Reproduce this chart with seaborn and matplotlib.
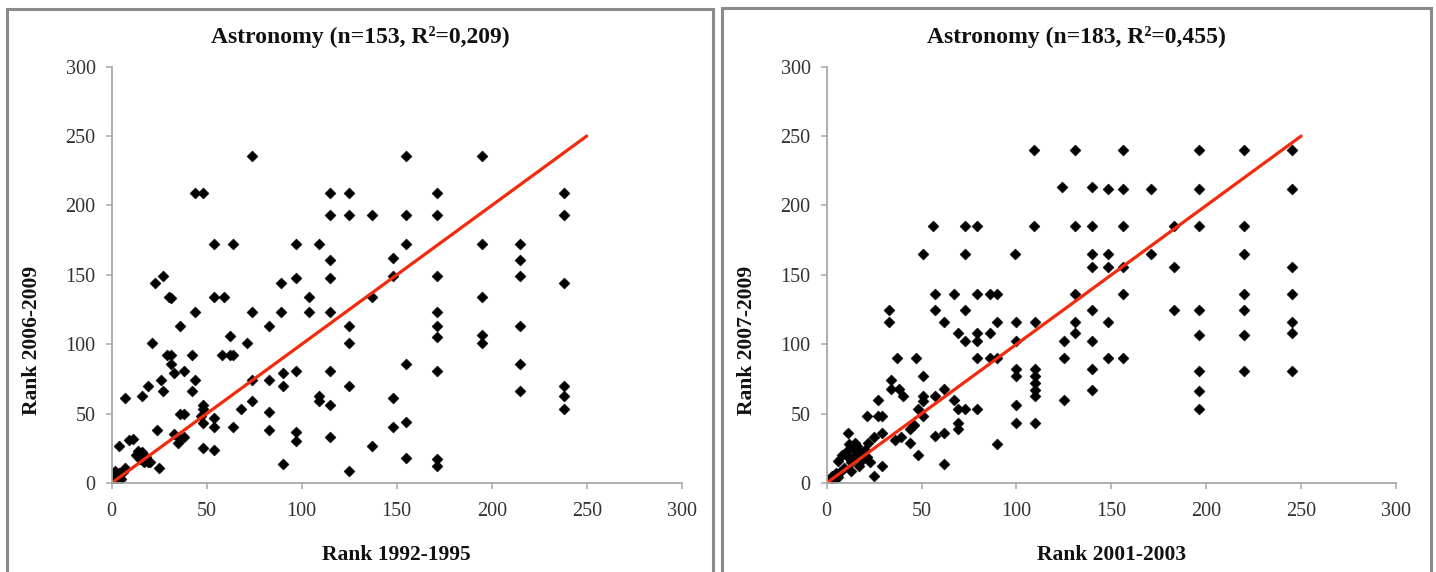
import numpy as np
import pandas as pd
import matplotlib
matplotlib.use("Agg")
import matplotlib.pyplot as plt
from matplotlib.lines import Line2D
import seaborn as sns

# ---------------- data ----------------
left_title = "Astronomy (n=153, R²=0,209)"
left_xlabel = "Rank 1992-1995"
left_ylabel = "Rank 2006-2009"
left_x = [74, 44, 48, 115, 125, 115, 125, 137, 54, 64, 97, 109, 115, 27, 23, 89, 97, 115,
          30, 31, 54, 59, 104, 137, 44, 74, 89, 104, 115, 36, 83, 125, 62, 21, 71, 125,
          29, 31, 42, 58, 62, 64, 31, 38, 33, 26, 44, 74, 83, 90, 97, 115, 19, 27, 42, 90,
          125, 7, 16, 109, 109, 115, 74, 48, 48, 36, 38, 68, 83, 47, 54, 48, 54, 64, 83, 97,
          97, 24, 33, 36, 38, 35, 115, 137, 48, 54, 90, 125, 4, 9, 11, 13, 15, 16, 18, 17,
          14, 20, 25, 19, 7, 1, 2, 3, 4, 5, 6, 2, 0,
          155, 195, 171, 238, 155, 171, 238, 155, 195, 215, 148, 215, 171, 148, 215, 238,
          195, 171, 171, 171, 195, 195, 215, 155, 171, 215, 148, 215, 238, 238, 238, 148,
          155, 155, 171, 171]
left_y = [236, 209, 209, 209, 209, 193, 193, 193, 172, 172, 172, 172, 161, 149, 144, 144, 148, 148,
          134, 133, 134, 134, 134, 134, 123, 123, 123, 123, 123, 113, 113, 113, 106, 101, 101, 101,
          92, 92, 92, 92, 92, 92, 86, 81, 79, 74, 74, 74, 74, 79, 81, 81, 70, 66, 66, 70,
          70, 61, 63, 63, 59, 56, 59, 56, 53, 50, 50, 53, 51, 48, 47, 43, 40, 40, 38, 37,
          30, 38, 35, 32, 33, 29, 33, 27, 25, 24, 14, 9, 27, 31, 32, 20, 17, 22, 19, 15,
          23, 15, 11, 15, 11, 2, 5, 1, 7, 3, 8, 9, 0,
          236, 236, 209, 209, 193, 193, 193, 172, 172, 172, 162, 161, 149, 149, 149, 144,
          134, 123, 113, 105, 107, 101, 113, 86, 81, 86, 61, 66, 70, 63, 53, 40,
          44, 18, 17, 12]

right_title = "Astronomy (n=183, R²=0,455)"
right_xlabel = "Rank 2001-2003"
right_ylabel = "Rank 2007-2009"
right_x = [109, 131, 124, 140, 56, 73, 79, 109, 131, 140, 51, 73, 99, 140, 140,
           57, 67, 79, 86, 90, 131, 33, 57, 73, 140, 33, 62, 90, 100, 110, 131,
           69, 79, 86, 131, 73, 79, 100, 125, 140, 37, 47, 79, 86, 90, 125,
           100, 100, 110, 110, 110, 110, 110, 140, 140, 51, 34, 38, 40, 34, 51, 51, 57, 62,
           27, 67, 125, 100, 21, 27, 29, 69, 73, 79, 51, 48, 69, 69, 100, 110,
           11, 29, 44, 46, 57, 62, 36, 39, 44, 90, 25, 22,
           6, 8, 10, 12, 14, 15, 16, 18, 19, 20, 21, 23, 17, 13, 15, 12,
           48, 62, 29, 25, 13, 9, 1, 2, 3, 4, 5, 6, 7, 0,
           156, 196, 220, 245, 148, 156, 171, 196, 245, 156, 183, 196, 220, 148, 171, 220,
           148, 156, 183, 245, 156, 220, 245, 183, 196, 220, 148, 245, 245, 196, 220, 148,
           156, 196, 220, 245, 196, 196]
right_y = [240, 240, 213, 213, 185, 185, 185, 185, 185, 185, 165, 165, 165, 165, 156,
           136, 136, 136, 136, 136, 136, 125, 125, 125, 125, 116, 116, 116, 116, 116, 116,
           108, 108, 108, 108, 102, 102, 102, 102, 102, 90, 90, 90, 90, 90, 90,
           82, 77, 82, 77, 72, 67, 63, 82, 67, 77, 74, 68, 63, 68, 63, 59, 63, 68,
           60, 60, 60, 56, 48, 48, 48, 53, 53, 53, 48, 53, 43, 39, 43, 43,
           36, 36, 39, 42, 34, 36, 31, 33, 29, 28, 33, 29,
           16, 20, 22, 18, 25, 20, 27, 22, 17, 24, 19, 15, 12, 15, 29, 28,
           20, 14, 12, 5, 9, 11, 1, 3, 5, 2, 7, 4, 8, 0,
           240, 240, 240, 240, 212, 212, 212, 212, 212, 185, 185, 185, 185, 165, 165, 165,
           156, 156, 156, 156, 136, 136, 136, 125, 125, 125, 116, 116, 108, 107, 107, 90,
           90, 81, 81, 81, 66, 53]

fit_x = [0, 250]
fit_y = [0, 250]
ticks = [0, 50, 100, 150, 200, 250, 300]

# ---------------- style ----------------
sns.set_style("white")
plt.rcParams['font.family'] = ['Liberation Serif', 'DejaVu Serif']

W, H = 1436, 572
fig = plt.figure(figsize=(W / 100, H / 100), dpi=100)

axes_px = [(111.7, 681.7), (826.7, 1396.0)]
frames_px = [(7, 713, 9), (722, 1431, 8)]
y0_px, y300_px = 483.0, 66.7

panels = [
    (left_x, left_y, left_title, left_xlabel, left_ylabel),
    (right_x, right_y, right_title, right_xlabel, right_ylabel),
]

for (xl, xr), (fl, fr, ft), (px, py, title, xlab, ylab) in zip(axes_px, frames_px, panels):
    ax = fig.add_axes([xl / W, (H - y0_px) / H, (xr - xl) / W, (y0_px - y300_px) / H])
    df = pd.DataFrame({"x": px, "y": py})
    sns.lineplot(x=fit_x, y=fit_y, ax=ax, color="#f52a0c", linewidth=2.3, zorder=3)
    sns.scatterplot(data=df, x="x", y="y", ax=ax, marker="D", s=32, color="black",
                    edgecolor="black", linewidth=0.3, zorder=2)
    ax.set_xlim(0, 300)
    ax.set_ylim(0, 300)
    ax.set_xticks(ticks)
    ax.set_yticks(ticks)
    ax.set_xticklabels([str(t) for t in ticks])
    ax.set_yticklabels([str(t) for t in ticks])
    for s in ["top", "right"]:
        ax.spines[s].set_visible(False)
    for s in ["left", "bottom"]:
        ax.spines[s].set_color("#a8a8a8")
        ax.spines[s].set_linewidth(1.3)
    ax.tick_params(axis="both", which="major", direction="out", length=4.5, width=1.1,
                   color="#a8a8a8", labelsize=14.5, labelcolor="#333333", pad=7,
                   bottom=True, left=True)
    ax.tick_params(axis="x", pad=9)
    ax.set_xlabel(xlab, fontsize=15.5, fontweight="bold", color="#111111")
    ax.set_ylabel(ylab, fontsize=15.5, fontweight="bold", color="#111111")
    ax.xaxis.set_label_coords(0.5, (y0_px - 545) / (y0_px - y300_px))
    ax.yaxis.set_label_coords((42 - 111.7) / (xr - xl), (y0_px - 340) / (y0_px - y300_px))
    fig.text(((fl + fr) / 2) / W, 1 - 37 / H, title, fontsize=17, fontweight="bold",
             color="#111111", ha="center", va="center")
    ax.set_facecolor("white")
    for sp in ax.spines.values():
        sp.set_zorder(5)

# panel frames (screenshot borders)
frame_col = "#8a8a8a"
for (fl, fr, ft) in frames_px:
    xs = [fl / W, fl / W, fr / W, fr / W]
    ys = [0, 1 - ft / H, 1 - ft / H, 0]
    fig.add_artist(Line2D(xs, ys, transform=fig.transFigure, color=frame_col,
                          linewidth=2.2, solid_joinstyle="miter"))

fig.savefig("out.png", dpi=100, facecolor="white")
